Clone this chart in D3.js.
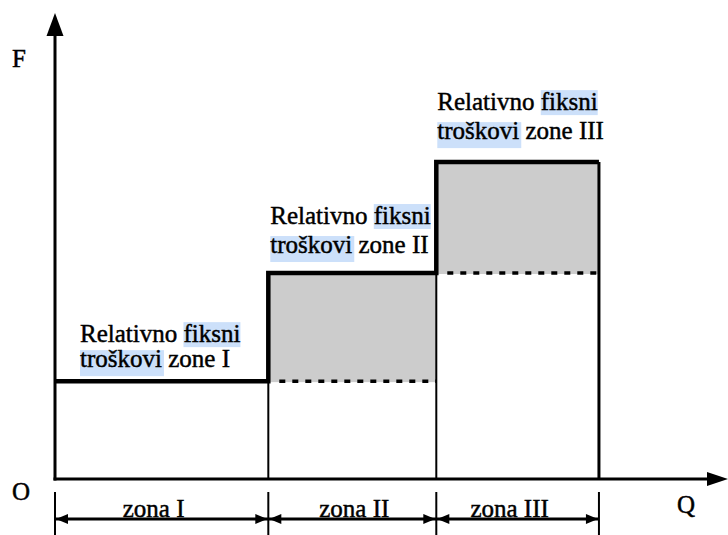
<!DOCTYPE html>
<html>
<head>
<meta charset="utf-8">
<script src="https://cdn.jsdelivr.net/npm/d3@7"></script>
<style>
  html, body { margin: 0; padding: 0; background: #fff; }
  text { font-family: "Liberation Serif", "Times New Roman", serif; font-size: 25px; fill: #000; stroke: #000; stroke-width: 0.45px; }
</style>
</head>
<body>
<div id="chart"></div>
<script>
// Zones along Q and their relatively fixed cost level F
const zoneNames = ["I", "II", "III"];
const zoneBounds = [0, 4, 7.15, 10.2];
const fixedCost = [2.1, 4.42, 6.8];
const labelLine1 = ["Relativno fiksni", "Relativno fiksni", "Relativno fiksni"];
const labelLine2 = ["troškovi zone I", "troškovi zone II", "troškovi zone III"];
const qMax = 12.62;
const fMax = 10;

const width = 728, height = 535;

const svg = d3.select("#chart")
    .append("svg")
    .attr("width", width)
    .attr("height", height);

svg.append("rect").attr("width", width).attr("height", height).attr("fill", "#fff");

const x = d3.scaleLinear().domain([0, qMax]).range([55, 728]);
const y = d3.scaleLinear().domain([0, fMax]).range([479, 13]);

// gray blocks for the increase of fixed costs
for (let i = 1; i < zoneNames.length; i++) {
    svg.append("rect")
        .attr("x", x(zoneBounds[i]))
        .attr("y", y(fixedCost[i]))
        .attr("width", x(zoneBounds[i + 1]) - x(zoneBounds[i]))
        .attr("height", y(fixedCost[i - 1]) - y(fixedCost[i]) + 1)
        .attr("fill", "#cccccc");
}

// thin verticals below each step
for (let i = 1; i < zoneNames.length; i++) {
    svg.append("line")
        .attr("x1", x(zoneBounds[i])).attr("x2", x(zoneBounds[i]))
        .attr("y1", y(0)).attr("y2", y(fixedCost[i - 1]))
        .attr("stroke", "#000").attr("stroke-width", 2);
}
// right edge of last zone
svg.append("line")
    .attr("x1", x(zoneBounds[3])).attr("x2", x(zoneBounds[3]))
    .attr("y1", y(0)).attr("y2", y(fixedCost[2]))
    .attr("stroke", "#000").attr("stroke-width", 3);

// dotted continuation of the previous level
for (let i = 1; i < zoneNames.length; i++) {
    svg.append("line")
        .attr("x1", x(zoneBounds[i]) + 11).attr("x2", x(zoneBounds[i + 1]))
        .attr("y1", y(fixedCost[i - 1])).attr("y2", y(fixedCost[i - 1]))
        .attr("stroke", "#000").attr("stroke-width", 3.5)
        .attr("stroke-dasharray", "6,7");
}

// step line of fixed costs
let stepD = `M${x(zoneBounds[0])},${y(fixedCost[0])}`;
zoneNames.forEach((z, i) => {
    if (i > 0) stepD += `V${y(fixedCost[i])}`;
    stepD += `H${x(zoneBounds[i + 1])}`;
});
svg.append("path")
    .attr("d", stepD)
    .attr("fill", "none")
    .attr("stroke", "#000")
    .attr("stroke-width", 4.5)
    .attr("stroke-linejoin", "miter");

// axes
svg.append("line")
    .attr("x1", x(0)).attr("x2", x(0))
    .attr("y1", y(0) + 1.5).attr("y2", y(fMax) + 20)
    .attr("stroke", "#000").attr("stroke-width", 3);
svg.append("path")
    .attr("d", `M${x(0)},${y(fMax)}L${x(0) + 8.5},${y(fMax) + 23}L${x(0) - 8.5},${y(fMax) + 23}Z`)
    .attr("fill", "#000");

svg.append("line")
    .attr("x1", x(0) - 1.5).attr("x2", x(qMax) - 18)
    .attr("y1", y(0)).attr("y2", y(0))
    .attr("stroke", "#000").attr("stroke-width", 3);
svg.append("path")
    .attr("d", `M${x(qMax)},${y(0)}L${x(qMax) - 21},${y(0) - 7}L${x(qMax) - 21},${y(0) + 7}Z`)
    .attr("fill", "#000");

// dimension line for zones
const dimY = 519;
svg.append("line")
    .attr("x1", x(zoneBounds[0])).attr("x2", x(zoneBounds[3]))
    .attr("y1", dimY).attr("y2", dimY)
    .attr("stroke", "#000").attr("stroke-width", 3);

zoneBounds.forEach(b => {
    svg.append("line")
        .attr("x1", x(b)).attr("x2", x(b))
        .attr("y1", 492).attr("y2", height)
        .attr("stroke", "#000").attr("stroke-width", 2);
});

const arrowLen = 12, arrowHalf = 5;
zoneNames.forEach((z, i) => {
    const x0 = x(zoneBounds[i]) + 1, x1 = x(zoneBounds[i + 1]) - 1;
    svg.append("path")
        .attr("d", `M${x0},${dimY}L${x0 + arrowLen},${dimY - arrowHalf}L${x0 + arrowLen},${dimY + arrowHalf}Z`)
        .attr("fill", "#000");
    svg.append("path")
        .attr("d", `M${x1},${dimY}L${x1 - arrowLen},${dimY - arrowHalf}L${x1 - arrowLen},${dimY + arrowHalf}Z`)
        .attr("fill", "#000");
});

// zone names
const zoneLabelDx = [-8, 2, -8];
zoneNames.forEach((z, i) => {
    svg.append("text")
        .attr("x", (x(zoneBounds[i]) + x(zoneBounds[i + 1])) / 2 + zoneLabelDx[i])
        .attr("y", 517)
        .attr("text-anchor", "middle")
        .text("zona " + z);
});

// cost labels with highlighted words
const labelOffset = [
    { dx: 25, dy1: -39, dy2: -14 },
    { dx: 2, dy1: -49, dy2: -20 },
    { dx: 1, dy1: -52, dy2: -23 }
];
zoneNames.forEach((z, i) => {
    const g = svg.append("g");
    const lx = x(zoneBounds[i]) + labelOffset[i].dx;
    const b1 = y(fixedCost[i]) + labelOffset[i].dy1;
    const b2 = y(fixedCost[i]) + labelOffset[i].dy2;

    const hl = g.append("g");
    const t1 = g.append("text").attr("x", lx).attr("y", b1).text(labelLine1[i]);
    const t2 = g.append("text").attr("x", lx).attr("y", b2).text(labelLine2[i]);

    // "fiksni" on line 1
    const s1 = labelLine1[i].indexOf("fiksni");
    const off1 = t1.node().getSubStringLength(0, s1);
    const w1 = t1.node().getSubStringLength(s1, 6);
    hl.append("rect")
        .attr("x", lx + off1).attr("y", b1 - 20)
        .attr("width", w1).attr("height", 25)
        .attr("fill", "#cce0fa");
    // "troškovi" on line 2
    const w2 = t2.node().getSubStringLength(0, 8);
    hl.append("rect")
        .attr("x", lx).attr("y", b2 - 17)
        .attr("width", w2 + 2).attr("height", 26)
        .attr("fill", "#cce0fa");
});

// axis letters
svg.append("text").attr("x", 12).attr("y", 67).text("F");
svg.append("text").attr("x", 12).attr("y", 500).text("O");
svg.append("text").attr("x", 677).attr("y", 513).text("Q");
</script>
</body>
</html>
